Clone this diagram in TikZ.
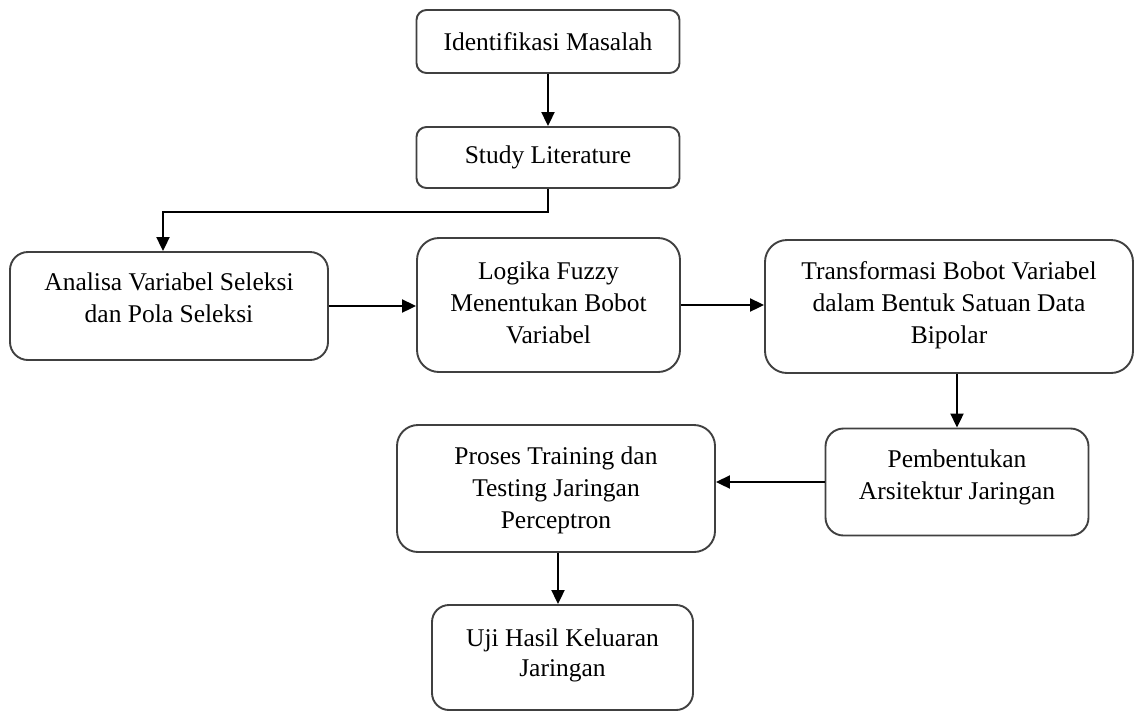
\documentclass[tikz,border=0pt]{standalone}
\usepackage{fontspec}
\setmainfont{Liberation Serif}
\usetikzlibrary{arrows.meta}
\newcommand{\bxtext}[2]{\raisebox{#1}[\height][\depth]{\begin{tabular}{@{}c@{}}#2\end{tabular}}}
\tikzset{
  flowbox/.style={draw=black!75, line width=1.9pt, fill=white, align=center,
    inner sep=0pt, font=\fontsize{25.5}{32}\selectfont},
  flowarrow/.style={draw=black, line width=2pt, -{Triangle[length=14pt,width=13pt]}}
}
\begin{document}
\begin{tikzpicture}[x=1pt,y=-1pt]
\useasboundingbox (0,0) rectangle (1134,713);
\node[flowbox, rounded corners=10pt, minimum width=263pt, minimum height=63pt] (b1) at (548,41.5) {Identifikasi Masalah};
\node[flowbox, rounded corners=10pt, minimum width=263pt, minimum height=61pt] (b2) at (548,157.5) {Study Literature};
\node[flowbox, rounded corners=18pt, minimum width=318pt, minimum height=108pt] (b3) at (169,306) {\bxtext{6pt}{Analisa Variabel Seleksi\\ dan Pola Seleksi}};
\node[flowbox, rounded corners=22pt, minimum width=263pt, minimum height=134pt] (b4) at (548.5,305) {\bxtext{0pt}{Logika Fuzzy\\ Menentukan Bobot\\ Variabel}};
\node[flowbox, rounded corners=22pt, minimum width=368pt, minimum height=133pt] (b5) at (949,306.5) {\bxtext{1pt}{Transformasi Bobot Variabel\\ dalam Bentuk Satuan Data\\ Bipolar}};
\node[flowbox, rounded corners=18pt, minimum width=263pt, minimum height=107pt] (b6) at (957,482) {\bxtext{5pt}{Pembentukan\\ Arsitektur Jaringan}};
\node[flowbox, rounded corners=21pt, minimum width=318pt, minimum height=127pt] (b7) at (556,488.5) {\bxtext{-2pt}{Proses Training dan\\ Testing Jaringan\\ Perceptron}};
\node[flowbox, rounded corners=17pt, minimum width=261pt, minimum height=105pt, font=\fontsize{25.5}{30}\selectfont] (b8) at (562.5,657.5) {\bxtext{2pt}{Uji Hasil Keluaran\\ Jaringan}};
\coordinate (k1) at (163,212);
\draw[flowarrow] (b1.south) -- (b2.north);
\draw[flowarrow] (b2.south) |- (k1) -- (k1 |- b3.north);
\draw[flowarrow] (b3.east) -- (b3.east -| b4.west);
\draw[flowarrow] (b4.east) -- (b4.east -| b5.west);
\draw[flowarrow] (b6.north |- b5.south) -- (b6.north);
\draw[flowarrow] (b6.west) -- (b6.west -| b7.east);
\draw[flowarrow] ([xshift=2pt]b7.south) -- ([xshift=2pt]b7.south |- b8.north);
\end{tikzpicture}
\end{document}
